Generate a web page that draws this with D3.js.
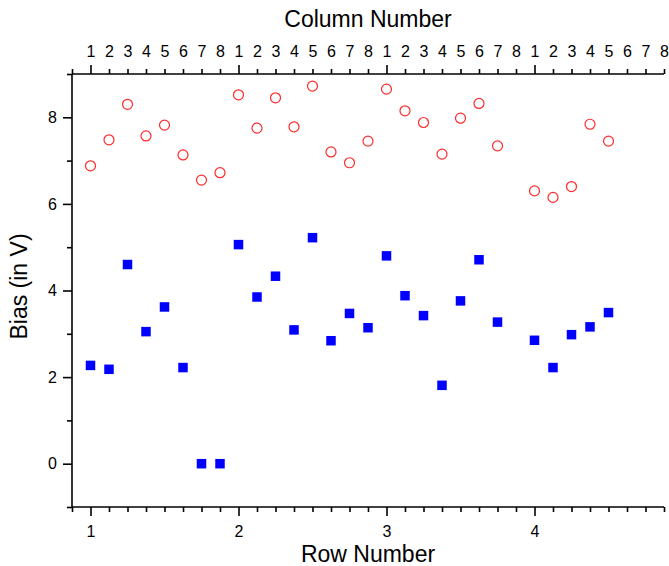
<!DOCTYPE html>
<html>
<head>
<meta charset="utf-8">
<script src="https://cdn.jsdelivr.net/npm/d3@7"></script>
<style>
  body { margin: 0; background: #fff; }
  svg { display: block; font-family: "Liberation Sans", Arial, sans-serif; }
</style>
</head>
<body>
<svg id="chart" width="669" height="566"></svg>
<script>
// ---- data ----
const rows = [1, 2, 3, 4];
const columns = [1, 2, 3, 4, 5, 6, 7, 8];
// red open circles, per row, columns 1..n
const highBias = [
  [6.88, 7.48, 8.30, 7.57, 7.82, 7.13, 6.55, 6.72],
  [8.52, 7.75, 8.45, 7.78, 8.72, 7.20, 6.95, 7.45],
  [8.65, 8.15, 7.88, 7.15, 7.98, 8.32, 7.34],
  [6.30, 6.15, 6.40, 7.84, 7.45]
];
// blue filled squares, per row, columns 1..n
const lowBias = [
  [2.27, 2.18, 4.60, 3.05, 3.62, 2.22, 0.00, 0.00],
  [5.06, 3.85, 4.33, 3.09, 5.22, 2.84, 3.47, 3.14],
  [4.80, 3.88, 3.42, 1.81, 3.76, 4.71, 3.27],
  [2.85, 2.22, 2.98, 3.16, 3.49]
];
const yTickLabels = [0, 2, 4, 6, 8];
const xTickLabels = [1, 2, 3, 4];

// ---- layout ----
const svg = d3.select("#chart");
const mLeft = 72, mRight = 664, mTop = 74, mBottom = 507;
const colStep = 1 / columns.length;
const x = d3.scaleLinear().domain([0.875, 4.875]).range([mLeft, mRight]);
const y = d3.scaleLinear().domain([-1, 9]).range([mBottom, mTop]);

function toPoints(arr) {
  const pts = [];
  arr.forEach((vals, ri) => vals.forEach((v, ci) => {
    pts.push({ x: rows[ri] + ci * colStep, v });
  }));
  return pts;
}

// all column positions
const allPos = [];
rows.forEach(r => columns.forEach((c, ci) => allPos.push(r + ci * colStep)));
const gridPos = [0.875].concat(allPos);
const isMajor = d => Math.abs(d - Math.round(d)) < 1e-9;

const fontTick = "16px";
const axisColor = "#000";

// bottom axis
const gB = svg.append("g").attr("transform", `translate(0,${mBottom})`)
  .call(d3.axisBottom(x).tickValues(gridPos).tickSize(9).tickPadding(10)
    .tickFormat(d => xTickLabels.includes(d) ? d3.format("d")(d) : ""));
// top axis
const gT = svg.append("g").attr("transform", `translate(0,${mTop})`)
  .call(d3.axisTop(x).tickValues(gridPos).tickSize(9).tickPadding(8)
    .tickFormat(d => {
      const i = allPos.findIndex(p => Math.abs(p - d) < 1e-9);
      return i < 0 ? "" : String(columns[i % columns.length]);
    }));
// left axis
const yTicks = d3.range(-1, 10, 1);
const gL = svg.append("g").attr("transform", `translate(${mLeft},0)`)
  .call(d3.axisLeft(y).tickValues(yTicks).tickSize(9).tickPadding(6)
    .tickFormat(d => yTickLabels.includes(d) ? String(d) : ""));

[gB, gT, gL].forEach(g => {
  g.select(".domain").attr("stroke", axisColor).attr("stroke-width", 1.6);
  g.selectAll(".tick line").attr("stroke", axisColor).attr("stroke-width", 1.6);
  g.selectAll(".tick text").attr("fill", "#000").style("font-size", fontTick)
    .style("font-family", "'Liberation Sans', Arial, sans-serif");
});
// shorten minor ticks
gB.selectAll(".tick").filter(d => !isMajor(d)).select("line").attr("y2", 5);
gT.selectAll(".tick").filter(d => !isMajor(d)).select("line").attr("y2", -5);
gL.selectAll(".tick").filter(d => d % 2 !== 0).select("line").attr("x2", -5);
// domain lines without end caps
gB.select(".domain").attr("d", `M${mLeft},0H${mRight}`);
gT.select(".domain").attr("d", `M${mLeft},0H${mRight}`);
gL.select(".domain").attr("d", `M0,${mTop}V${mBottom}`);

// ---- marks ----
const sq = 9.5;
svg.append("g").selectAll("rect").data(toPoints(lowBias)).join("rect")
  .attr("x", d => x(d.x) - sq / 2)
  .attr("y", d => y(d.v) - sq / 2)
  .attr("width", sq).attr("height", sq)
  .attr("fill", "#0000ff");

svg.append("g").selectAll("circle").data(toPoints(highBias)).join("circle")
  .attr("cx", d => x(d.x))
  .attr("cy", d => y(d.v))
  .attr("r", 5)
  .attr("fill", "none")
  .attr("stroke", "#ff2a2a")
  .attr("stroke-width", 1.2);

// ---- titles ----
svg.append("text").attr("x", (mLeft + mRight) / 2).attr("y", 27)
  .attr("text-anchor", "middle").style("font-size", "23px").text("Column Number");
svg.append("text").attr("x", (mLeft + mRight) / 2).attr("y", 562)
  .attr("text-anchor", "middle").style("font-size", "23px").text("Row Number");
svg.append("text")
  .attr("transform", `translate(27,${(mTop + mBottom) / 2 - 4}) rotate(-90)`)
  .attr("text-anchor", "middle").style("font-size", "23px").text("Bias (in V)");
</script>
</body>
</html>
